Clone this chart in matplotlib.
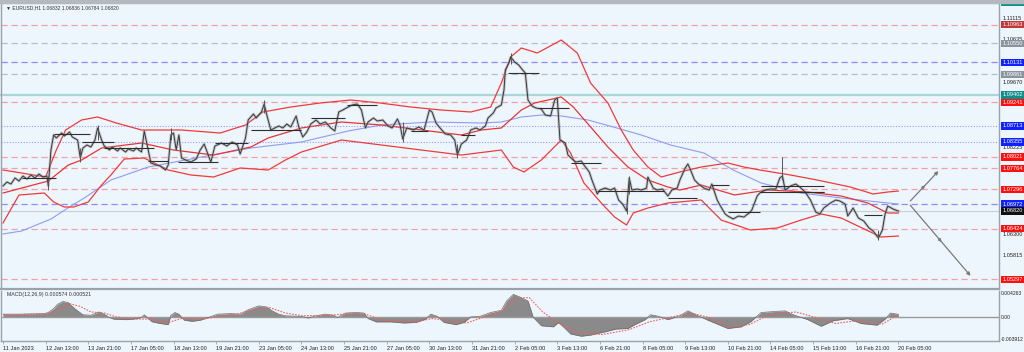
import numpy as np
import matplotlib
matplotlib.use("Agg")
import matplotlib.pyplot as plt
import matplotlib.transforms as mtransforms

plt.rcParams["font.family"] = ["Liberation Sans", "DejaVu Sans"]

# ---- price path (H1 bars since 11 Jan 05:00), closes
bars = [0, 3, 6, 9, 12, 15, 18, 21, 24, 27, 30, 33, 34, 36, 38, 40, 44, 46, 50, 52,
        56, 58, 60, 63, 66, 69, 71, 74, 76, 80, 82, 86, 88, 92, 94, 98, 100, 104, 106, 109,
        111, 115, 118, 122, 124, 126, 128, 130, 132, 134, 137, 141, 145, 148, 151, 154, 156, 159, 164, 168,
        172, 176, 178, 182, 184, 188, 190, 194, 196, 198, 201, 204, 207, 210, 213, 216, 220, 222, 225, 228,
        231, 235, 238, 242, 246, 249, 252, 255, 259, 262, 266, 269, 272, 274, 278, 281, 285, 289, 292, 296,
        298, 300, 303, 308, 312, 316, 320, 322, 325, 328, 332, 336, 339, 341, 344, 348, 351, 355, 358, 362,
        364, 368, 370, 374, 376, 377, 380, 381, 384, 387, 390, 392, 394, 397, 400, 404, 407, 411, 414, 416,
        418, 422, 424, 428, 430, 434, 436, 440, 442, 446, 448, 452, 456, 459, 462, 465, 468, 470, 472, 476,
        479, 483, 484, 488, 491, 495, 499, 502, 506, 508, 512, 514, 516, 519, 522, 526, 530, 532, 536, 538,
        542, 544, 548, 552, 556, 560, 562, 566, 568, 572, 576, 580, 583, 585, 587, 591, 595, 598, 602, 606,
        610, 613, 616, 621, 625, 628, 632, 634, 638, 642, 646, 650, 653, 657, 660, 662, 664, 668, 670, 672]
closes = [1.07374, 1.07463, 1.07418, 1.07552, 1.07485, 1.07597, 1.07530, 1.07619, 1.07552, 1.07641,
          1.07574, 1.07597, 1.07374, 1.08175, 1.08510, 1.08443, 1.08554, 1.08487, 1.08576, 1.08465,
          1.08398, 1.07997, 1.08220, 1.08287, 1.08242, 1.08398, 1.08666, 1.08398, 1.08264, 1.08175,
          1.08242, 1.08153, 1.08220, 1.08131, 1.08198, 1.08153, 1.08220, 1.08131, 1.08599, 1.08175,
          1.07886, 1.07841, 1.07819, 1.07730, 1.07841, 1.08510, 1.08554, 1.08175, 1.08510, 1.07997,
          1.07953, 1.07908, 1.07975, 1.08175, 1.08309, 1.08064, 1.07908, 1.08264, 1.08331, 1.08264,
          1.08353, 1.08287, 1.08086, 1.08443, 1.08844, 1.08977, 1.08888, 1.09022, 1.09200, 1.08955,
          1.08621, 1.08666, 1.08710, 1.08666, 1.08755, 1.08688, 1.08933, 1.08688, 1.08465, 1.08576,
          1.08755, 1.08844, 1.08755, 1.08799, 1.08666, 1.08599, 1.09022, 1.09066, 1.09133, 1.09178,
          1.09200, 1.09066, 1.08666, 1.08799, 1.08888, 1.08821, 1.08844, 1.08710, 1.08666, 1.08866,
          1.08732, 1.08421, 1.08666, 1.08621, 1.08688, 1.08621, 1.09066, 1.09022, 1.08777, 1.08666,
          1.08532, 1.08510, 1.08398, 1.08064, 1.08309, 1.08398, 1.08621, 1.08666, 1.08621, 1.08710,
          1.08888, 1.09000, 1.09111, 1.09178, 1.09512, 1.09957, 1.10135, 1.10247, 1.10135, 1.10069,
          1.09957, 1.09890, 1.09289, 1.09155, 1.09111, 1.09089, 1.08955, 1.08933, 1.09289, 1.09334,
          1.08398, 1.08331, 1.08064, 1.07953, 1.07908, 1.07930, 1.07841, 1.07686, 1.07507, 1.07196,
          1.07284, 1.07329, 1.07284, 1.07329, 1.07062, 1.06973, 1.06816, 1.07552, 1.07284, 1.07307,
          1.07284, 1.07329, 1.07574, 1.07329, 1.07284, 1.07307, 1.07151, 1.07284, 1.07329, 1.07507,
          1.07775, 1.07864, 1.07730, 1.07507, 1.07418, 1.07329, 1.07284, 1.07418, 1.07062, 1.06951,
          1.06750, 1.06705, 1.06639, 1.06705, 1.06683, 1.06772, 1.06839, 1.07151, 1.07218, 1.07284,
          1.07307, 1.07307, 1.07552, 1.07597, 1.07284, 1.07374, 1.07418, 1.07351, 1.07240, 1.07062,
          1.06794, 1.06750, 1.06884, 1.06995, 1.07062, 1.07040, 1.06973, 1.06705, 1.06884, 1.06661,
          1.06594, 1.06438, 1.06371, 1.06216, 1.06394, 1.06750, 1.06928, 1.06861, 1.06839, 1.06816]

# wicks that stick out of the close path: bar, high, low
wick_bars = [34, 58, 71, 126, 196, 300, 341, 381, 468, 470, 585, 657]
wick_hi = [1.07600, 1.08220, 1.08732, 1.08666, 1.09289, 1.08800, 1.08300, 1.10336, 1.06900, 1.07600, 1.08020, 1.06400]
wick_lo = [1.07284, 1.07908, 1.08400, 1.08400, 1.09000, 1.08353, 1.07997, 1.10100, 1.06750, 1.07200, 1.07500, 1.06171]

# short black level segments: start bar, end bar, price
seg_start = [14, 38, 59, 76, 109, 131, 159, 186, 231, 258, 306, 344, 379, 402, 426, 446, 499, 532, 544, 568, 569, 596, 646]
seg_end = [40, 65, 83, 113, 124, 161, 184, 224, 257, 281, 319, 354, 402, 425, 449, 496, 521, 545, 568, 616, 616, 616, 660]
seg_price = [1.07552, 1.08532, 1.08353, 1.08220, 1.07930, 1.07908, 1.08331, 1.08621, 1.08888, 1.09178, 1.08599, 1.08510,
             1.09890, 1.09111, 1.07886, 1.07262, 1.07107, 1.07392, 1.06794, 1.07240, 1.07374, 1.07240, 1.06728]

# Bollinger bands and MA (bar, price)
up_bars = [0, 14, 32, 40, 47, 59, 71, 85, 104, 134, 163, 182, 195, 216, 238, 261, 283, 306, 329, 351, 366, 374,
           381, 389, 401, 419, 431, 441, 454, 464, 473, 484, 494, 508, 524, 544, 556, 568, 591, 611, 636, 653, 664, 672]
up_vals = [1.07730, 1.07663, 1.07574, 1.08175, 1.08621, 1.08844, 1.08911, 1.08777, 1.08621, 1.08621, 1.08554, 1.08732,
           1.09022, 1.09133, 1.09222, 1.09289, 1.09222, 1.09133, 1.09066, 1.09022, 1.09133, 1.09667, 1.10247, 1.10447,
           1.10336, 1.10625, 1.10336, 1.09667, 1.09222, 1.08621, 1.08175, 1.07797, 1.07574, 1.07686, 1.07797, 1.07886,
           1.07797, 1.07730, 1.07619, 1.07507, 1.07351, 1.07196, 1.07240, 1.07262]
mid_bars = [0, 34, 49, 59, 74, 104, 128, 158, 186, 199, 224, 254, 284, 314, 344, 359, 374, 389, 399, 419, 428, 441,
            454, 469, 484, 499, 508, 524, 549, 574, 604, 629, 649, 664, 672]
mid_vals = [1.07218, 1.07485, 1.07841, 1.07953, 1.08220, 1.08331, 1.08175, 1.08064, 1.08242, 1.08443, 1.08666,
            1.08799, 1.08732, 1.08621, 1.08510, 1.08621, 1.08666, 1.09066, 1.09222, 1.09356, 1.09133, 1.08688,
            1.08242, 1.07797, 1.07507, 1.07351, 1.07284, 1.07396, 1.07174, 1.07284, 1.07240, 1.07151, 1.06995,
            1.06772, 1.06772]
lo_bars = [0, 12, 31, 38, 46, 53, 64, 74, 81, 91, 106, 124, 141, 158, 178, 199, 212, 224, 254, 284, 314, 344, 374,
           383, 391, 404, 419, 426, 436, 449, 459, 468, 473, 484, 499, 524, 539, 561, 581, 599, 614, 629, 659, 672]
lo_vals = [1.06550, 1.07173, 1.07218, 1.07018, 1.06906, 1.06906, 1.07018, 1.07396, 1.07619, 1.07975, 1.07997,
           1.07730, 1.07619, 1.07574, 1.07775, 1.07730, 1.07953, 1.08131, 1.08398, 1.08287, 1.08175, 1.08064,
           1.08175, 1.07797, 1.07686, 1.07953, 1.08398, 1.08108, 1.07441, 1.06995, 1.06683, 1.06505, 1.06772,
           1.06884, 1.06995, 1.07062, 1.06616, 1.06394, 1.06438, 1.06616, 1.06750, 1.06661, 1.06238, 1.06260]
ma_bars = [0, 14, 36, 51, 61, 81, 109, 149, 186, 224, 259, 284, 321, 359, 374, 389, 404, 419, 439, 458, 479, 501,
           526, 548, 569, 599, 629, 664, 672]
ma_vals = [1.06305, 1.06372, 1.06639, 1.06928, 1.07107, 1.07507, 1.07797, 1.08020, 1.08220, 1.08354, 1.08599,
           1.08732, 1.08799, 1.08777, 1.08799, 1.08910, 1.08955, 1.08933, 1.08844, 1.08688, 1.08510, 1.08287,
           1.08109, 1.07730, 1.07441, 1.07218, 1.07107, 1.06995, 1.06973]

# levels drawn across the chart
red_levels = [1.10963, 1.09241, 1.08021, 1.07764, 1.07296, 1.06424, 1.05297]
grey_levels = [1.10550, 1.09861]
blue_dash_levels = [1.10131, 1.06972]
blue_dot_levels = [1.08713, 1.08355]
teal_levels = [1.11453, 1.09402]
last_price = 1.06820

# price scale labels that show through
scale_ticks = [1.11115, 1.10635, 1.09670, 1.08225, 1.06300, 1.05815]
# boxed labels: value, colour
box_vals = [1.11453, 1.10963, 1.10550, 1.10131, 1.09861, 1.09402, 1.09241, 1.08713, 1.08355,
            1.08021, 1.07764, 1.07296, 1.06972, 1.06820, 1.06424, 1.05297]
box_cols = ["#0f8f8a", "#c0393b", "#8a949e", "#1020ff", "#8a949e", "#0f8f8a", "#ff1010", "#1020ff", "#1020ff",
            "#ff1010", "#ff1010", "#ff1010", "#1020ff", "#101010", "#ff1010", "#ff1010"]

# projection arrows
arrow_start = (679.5, 1.06995)
arrow_up = (703.5, 1.07752)
arrow_down = (727.5, 1.05325)

# MACD(12,26,9)
macd_bars = [0, 13, 31, 34, 38, 41, 45, 49, 52, 56, 60, 66, 72, 76, 79, 83, 92, 98, 104, 106, 109, 112, 118, 124,
             126, 129, 132, 136, 142, 148, 154, 161, 171, 178, 184, 192, 198, 202, 207, 212, 224, 229, 235, 242,
             248, 251, 257, 265, 271, 274, 280, 291, 301, 310, 317, 321, 326, 331, 340, 346, 351, 358, 366, 374,
             378, 383, 388, 394, 398, 404, 413, 417, 421, 426, 434, 441, 446, 452, 460, 469, 475, 482, 486, 492,
             499, 508, 514, 520, 529, 536, 544, 554, 561, 569, 580, 587, 593, 604, 614, 623, 634, 644, 656, 662,
             666, 672]
macd_hist = [0.0006, 0.0006, 0.0007, 0.0009, 0.0016, 0.0024, 0.0029, 0.0027, 0.0020, 0.0012, 0.0005, 0.0004,
             0.0010, 0.0006, 0.0001, -0.0003, -0.0004, -0.0003, 0.0000, 0.0005, -0.0002, -0.0008, -0.0011,
             -0.0013, 0.0004, 0.0009, 0.0006, -0.0005, -0.0007, -0.0005, 0.0000, 0.0006, 0.0007, 0.0006, 0.0014,
             0.0021, 0.0019, 0.0012, 0.0006, 0.0003, 0.0002, -0.0001, 0.0003, 0.0006, 0.0004, 0.0000, 0.0008,
             0.0009, 0.0008, -0.0002, -0.0008, -0.0008, -0.0010, -0.0009, -0.0003, 0.0006, 0.0002, -0.0009,
             -0.0013, -0.0009, 0.0001, 0.0002, 0.0009, 0.0013, 0.0030, 0.0042, 0.0037, 0.0030, 0.0000, -0.0015,
             -0.0017, -0.0009, -0.0018, -0.0030, -0.0034, -0.0032, -0.0029, -0.0026, -0.0021, -0.0020, -0.0012,
             -0.0004, 0.0005, 0.0002, -0.0004, 0.0003, 0.0012, 0.0005, -0.0005, -0.0012, -0.0020, -0.0017,
             -0.0008, 0.0009, 0.0011, 0.0012, 0.0005, -0.0004, -0.0016, -0.0006, -0.0002, -0.0011, -0.0014,
             -0.0003, 0.0008, 0.000574]
sig_bars = [0, 31, 41, 50, 58, 66, 76, 85, 98, 110, 124, 134, 146, 158, 175, 190, 200, 212, 225, 245, 260, 272,
            285, 310, 322, 333, 348, 360, 375, 385, 395, 405, 418, 432, 450, 470, 485, 500, 516, 530, 545, 560,
            575, 595, 610, 625, 640, 660, 672]
sig_vals = [0.0005, 0.0006, 0.0012, 0.0025, 0.0020, 0.0010, 0.0008, 0.0001, -0.0003, -0.0003, -0.0009, -0.0002,
            -0.0004, 0.0000, 0.0006, 0.0015, 0.0018, 0.0008, 0.0003, 0.0004, 0.0007, 0.0006, -0.0005, -0.0008,
            -0.0002, -0.0005, -0.0010, 0.0000, 0.0012, 0.0035, 0.0036, 0.0010, -0.0012, -0.0028, -0.0031,
            -0.0022, -0.0008, 0.0000, 0.0008, 0.0000, -0.0017, -0.0013, 0.0005, 0.0010, 0.0000, -0.0011,
            -0.0006, -0.0012, 0.000521]
macd_ticks = [0.004263, 0.0, -0.003912]
macd_tick_labels = ["0.004263", "0.00", "-0.003912"]

tick_bars = list(range(0, 673, 32))
tick_labels = ["11 Jan 2023", "12 Jan 13:00", "13 Jan 21:00", "17 Jan 05:00", "18 Jan 13:00", "19 Jan 21:00",
               "23 Jan 05:00", "24 Jan 13:00", "25 Jan 21:00", "27 Jan 05:00", "30 Jan 13:00", "31 Jan 21:00",
               "2 Feb 05:00", "3 Feb 13:00", "6 Feb 21:00", "8 Feb 05:00", "9 Feb 13:00", "10 Feb 21:00",
               "14 Feb 05:00", "15 Feb 13:00", "16 Feb 21:00", "20 Feb 05:00"]

BG = "#eef6fd"
FRAME = "#9aa3ab"
W, H = 1024, 352
FS = 4.1

fig = plt.figure(figsize=(W / 100, H / 100), dpi=100, facecolor=BG)
ax = fig.add_axes([1 / W, 1 - 289 / H, 998 / W, 285 / H], facecolor=BG)
axm = fig.add_axes([1 / W, 1 - 341 / H, 998 / W, 50 / H], facecolor=BG, sharex=ax)

# top strip
fig.patches.append(plt.Rectangle((0, 1 - 2.5 / H), 1, 2.5 / H, transform=fig.transFigure, color="#b4b9bf"))

ax.set_xlim(-1.5, 747.5)
ax.set_ylim(1.05080, 1.11427)

for lv in red_levels:
    ax.axhline(lv, color="#f2a0a8", lw=0.9, ls=(0, (5, 3)))
for lv in grey_levels:
    ax.axhline(lv, color="#b8bec6", lw=0.9, ls=(0, (5, 3)))
for lv in blue_dash_levels:
    ax.axhline(lv, color="#8c8cf5", lw=0.9, ls=(0, (5, 3)))
for lv in blue_dot_levels:
    ax.axhline(lv, color="#9a9af5", lw=0.8, ls=(0, (1, 1.5)))
for lv in teal_levels:
    ax.axhline(lv, color="#a9d6d8", lw=1.6, clip_on=False)
ax.axhline(last_price, color="#c9ced3", lw=0.8)

# indicators
ax.plot(ma_bars, ma_vals, color="#8f9cf2", lw=0.8)
ax.plot(up_bars, up_vals, color="#f03a3a", lw=0.9)
ax.plot(mid_bars, mid_vals, color="#e83434", lw=0.9)
ax.plot(lo_bars, lo_vals, color="#f03a3a", lw=0.9)

# price
ax.plot(bars, closes, color="#9a9a9a", lw=2.0, alpha=0.5)
ax.plot(bars, closes, color="#383838", lw=0.7)
ax.vlines(wick_bars, wick_lo, wick_hi, color="#555555", lw=0.7)
ax.hlines(seg_price, seg_start, seg_end, color="#2e2e2e", lw=0.8)

# projection arrows
for end in (arrow_up, arrow_down):
    ax.annotate("", xy=end, xytext=arrow_start,
                arrowprops=dict(arrowstyle="-|>", color="#7a7a7a", lw=0.9, mutation_scale=5))
    mx = (arrow_start[0] + end[0]) / 2
    my = (arrow_start[1] + end[1]) / 2
    ax.annotate("", xy=(mx + (end[0] - arrow_start[0]) * 0.02, my + (end[1] - arrow_start[1]) * 0.02),
                xytext=(mx, my), arrowprops=dict(arrowstyle="-|>", color="#7a7a7a", lw=0.6, mutation_scale=5))

ax.text(2, 1.11335, "\u25bc EURUSD,H1 1.06832 1.06836 1.06784 1.06820", fontsize=3.6, color="#333333",
        va="center", ha="left")

# right price scale
tr = mtransforms.blended_transform_factory(ax.transAxes, ax.transData)
for v in scale_ticks:
    ax.text(1.0035, v, f"{v:.5f}", transform=tr, fontsize=FS, color="#222222", va="center", ha="left",
            clip_on=False)
for v, c in zip(box_vals, box_cols):
    ax.text(1.0035, v, f"{v:.5f}", transform=tr, fontsize=FS, color="white", va="center", ha="left",
            clip_on=False, bbox=dict(boxstyle="square,pad=0.2", fc=c, ec="none"))

# MACD panel
axm.set_ylim(-0.00427, 0.0048)
axm.axhline(0, color="#9a9a9a", lw=1.0)
axm.fill_between(macd_bars, 0, macd_hist, color="#8a8a8a", lw=0)
axm.plot(macd_bars, macd_hist, color="#6e6e6e", lw=0.5)
axm.plot(sig_bars, sig_vals, color="#f06060", lw=0.8, ls=(0, (1.5, 1.2)))
axm.text(3, 0.0041, "MACD(12,26,9) 0.000574 0.000521", fontsize=3.8, color="#333333", va="center")
trm = mtransforms.blended_transform_factory(axm.transAxes, axm.transData)
for v, s in zip(macd_ticks, macd_tick_labels):
    axm.text(1.0015, v, s, transform=trm, fontsize=3.6, color="#222222", va="center", ha="left", clip_on=False)

for a in (ax, axm):
    for sp in a.spines.values():
        sp.set_color(FRAME)
        sp.set_linewidth(1.0)
    a.tick_params(axis="y", left=False, right=False, labelleft=False)
ax.spines["bottom"].set_linewidth(1.6)
ax.spines["top"].set_visible(False)
axm.spines["top"].set_visible(False)

ax.tick_params(axis="x", bottom=False, labelbottom=False)
axm.set_xticks(tick_bars)
axm.set_xticklabels(tick_labels, ha="left")
axm.tick_params(axis="x", direction="out", length=2, width=0.6, color=FRAME, labelsize=FS,
                labelcolor="#222222", pad=1.5)

fig.savefig("out.png", dpi=100, facecolor=BG)
